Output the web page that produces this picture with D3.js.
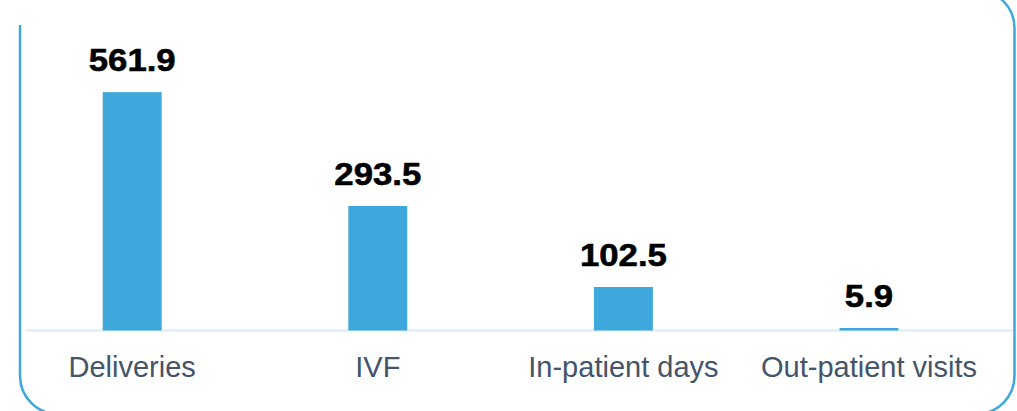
<!DOCTYPE html>
<html>
<head>
<meta charset="utf-8">
<script src="https://cdn.jsdelivr.net/npm/d3@7"></script>
<style>
  html, body { margin: 0; padding: 0; background: #fff; }
  svg { display: block; }
</style>
</head>
<body>
<svg id="chart" width="1017" height="411"></svg>
<script>
var categories = ['Deliveries', 'IVF', 'In-patient days', 'Out-patient visits'];
var values = [561.9, 293.5, 102.5, 5.9];
var valueLabels = ['561.9', '293.5', '102.5', '5.9'];

const svg = d3.select("#chart"),
  baseY = 330.5,
  blue = "#3ea7db";

// rounded frame, top and bottom edges run off the picture
svg.append("rect")
  .attr("x", 20).attr("y", -10)
  .attr("width", 994.5).attr("height", 424)
  .attr("rx", 38).attr("ry", 38)
  .attr("fill", "none")
  .attr("stroke", blue)
  .attr("stroke-width", 2.5);

// title box covers the top left corner
svg.append("rect")
  .attr("x", 0).attr("y", 0)
  .attr("width", 900).attr("height", 25)
  .attr("fill", "#fff");

const x = d3.scaleBand()
  .domain(categories)
  .range([9.4, 991.8])
  .paddingInner(0.76)
  .paddingOuter(0.38);

const y = d3.scaleLinear()
  .domain([0, 600])
  .range([baseY, baseY - 254.5]);

const data = categories.map((c, i) => ({cat: c, v: values[i], label: valueLabels[i]}));

// baseline
svg.append("line")
  .attr("x1", 25).attr("x2", 1013)
  .attr("y1", baseY).attr("y2", baseY)
  .attr("stroke", "#dcebf7")
  .attr("stroke-width", 2);

svg.selectAll(".bar")
  .data(data)
  .enter().append("rect")
  .attr("class", "bar")
  .attr("x", d => x(d.cat))
  .attr("y", d => y(d.v))
  .attr("width", x.bandwidth())
  .attr("height", d => baseY - y(d.v))
  .attr("fill", blue);

// value labels
svg.selectAll(".val")
  .data(data)
  .enter().append("text")
  .attr("class", "val")
  .attr("transform", d => `translate(${x(d.cat) + x.bandwidth() / 2},${y(d.v) - 21}) scale(1.12,1)`)
  .attr("text-anchor", "middle")
  .attr("font-family", "Liberation Sans, Arial, sans-serif")
  .attr("font-weight", "bold")
  .attr("font-size", 31)
  .attr("stroke", "#000")
  .attr("stroke-width", 0.6)
  .attr("fill", "#000")
  .text(d => d.label);

// category labels
svg.selectAll(".cat")
  .data(data)
  .enter().append("text")
  .attr("class", "cat")
  .attr("x", d => x(d.cat) + x.bandwidth() / 2)
  .attr("y", 377)
  .attr("text-anchor", "middle")
  .attr("font-family", "Liberation Sans, Arial, sans-serif")
  .attr("font-size", 29)
  .attr("fill", "#44546a")
  .text(d => d.cat);
</script>
</body>
</html>
